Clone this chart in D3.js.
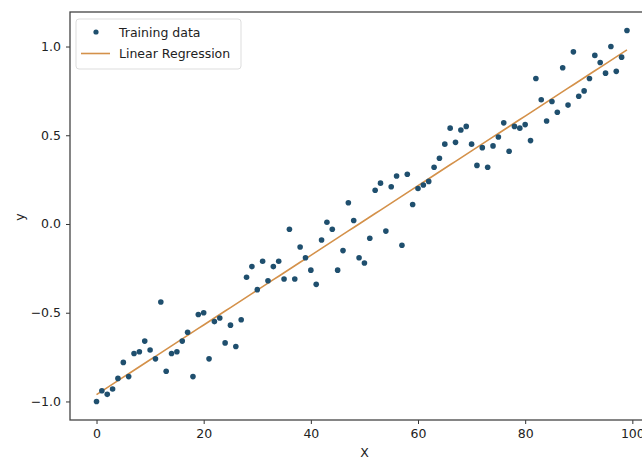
<!DOCTYPE html>
<html>
<head>
<meta charset="utf-8">
<script src="https://cdn.jsdelivr.net/npm/d3@7"></script>
<style>
  body { margin: 0; background: #fff; }
  svg { display: block; font-family: "DejaVu Sans", sans-serif; }
</style>
</head>
<body>
<svg id="chart" width="642" height="463"></svg>
<script>
// training data, x = 0..99
var xs = d3.range(0, 100);
var ys = [
  -1.00, -0.94, -0.96, -0.93, -0.87, -0.78, -0.86, -0.73, -0.72, -0.66,
  -0.71, -0.76, -0.44, -0.83, -0.73, -0.72, -0.66, -0.61, -0.86, -0.51,
  -0.50, -0.76, -0.55, -0.53, -0.67, -0.57, -0.69, -0.54, -0.30, -0.24,
  -0.37, -0.21, -0.32, -0.24, -0.21, -0.31, -0.03, -0.31, -0.13, -0.19,
  -0.26, -0.34, -0.09, 0.01, -0.03, -0.26, -0.15, 0.12, 0.02, -0.19,
  -0.22, -0.08, 0.19, 0.23, -0.04, 0.21, 0.27, -0.12, 0.28, 0.11,
  0.20, 0.22, 0.24, 0.32, 0.37, 0.45, 0.54, 0.46, 0.53, 0.55,
  0.45, 0.33, 0.43, 0.32, 0.44, 0.49, 0.57, 0.41, 0.55, 0.54,
  0.56, 0.47, 0.82, 0.70, 0.58, 0.69, 0.63, 0.88, 0.67, 0.97,
  0.72, 0.75, 0.82, 0.95, 0.91, 0.85, 1.00, 0.86, 0.94, 1.09
];
var xTicks = [0, 20, 40, 60, 80, 100];
var yTicks = [-1.0, -0.5, 0.0, 0.5, 1.0];
var legendLabels = ["Training data", "Linear Regression"];

var pointColor = "#1f4f6e";
var lineColor = "#d4914a";

var svg = d3.select("#chart");

// matplotlib style 5% margins around the data
function padded(ext) {
  var p = (ext[1] - ext[0]) * 0.05;
  return [ext[0] - p, ext[1] + p];
}

var x = d3.scaleLinear().domain(padded(d3.extent(xs))).range([70, 653.5]);
var y = d3.scaleLinear().domain(padded(d3.extent(ys))).range([420, 12]);

// least squares fit
var mx = d3.mean(xs), my = d3.mean(ys);
var sxy = d3.sum(xs, function(d, i) { return (d - mx) * (ys[i] - my); });
var sxx = d3.sum(xs, function(d) { return (d - mx) * (d - mx); });
var slope = sxy / sxx;
var icpt = my - slope * mx;

var line = d3.line()
  .x(function(d) { return x(d); })
  .y(function(d) { return y(icpt + slope * d); });

svg.append("path")
  .datum(xs)
  .attr("d", line)
  .attr("fill", "none")
  .attr("stroke", lineColor)
  .attr("stroke-width", 1.6);

svg.append("g")
  .selectAll("circle")
  .data(xs)
  .join("circle")
  .attr("cx", function(d) { return x(d); })
  .attr("cy", function(d, i) { return y(ys[i]); })
  .attr("r", 2.8)
  .attr("fill", pointColor);

// axes
var xAxis = svg.append("g")
  .attr("transform", "translate(0,420)")
  .call(d3.axisBottom(x).tickValues(xTicks).tickSize(4).tickPadding(5).tickFormat(d3.format("d")));

var yAxis = svg.append("g")
  .attr("transform", "translate(70,0)")
  .call(d3.axisLeft(y).tickValues(yTicks).tickSize(4).tickPadding(5)
    .tickFormat(function(d) { return d3.format(".1f")(d).replace("-", "\u2212"); }));

[xAxis, yAxis].forEach(function(g) {
  g.select(".domain").remove();
  g.selectAll("line").attr("stroke", "#333").attr("stroke-width", 1);
  g.selectAll("text").attr("fill", "#222").style("font-size", "12.5px")
    .style("font-family", "DejaVu Sans, sans-serif");
});

// frame
svg.append("rect")
  .attr("x", 70).attr("y", 12)
  .attr("width", 653.5 - 70).attr("height", 420 - 12)
  .attr("fill", "none")
  .attr("stroke", "#444")
  .attr("stroke-width", 1.3);

// axis labels
svg.append("text")
  .attr("x", x(50)).attr("y", 457)
  .attr("text-anchor", "middle")
  .style("font-size", "12.5px")
  .attr("fill", "#222")
  .text("X");

svg.append("text")
  .attr("transform", "translate(24,217) rotate(-90)")
  .attr("text-anchor", "middle")
  .style("font-size", "12.5px")
  .attr("fill", "#222")
  .text("y");

// legend
var lg = svg.append("g");
lg.append("rect")
  .attr("x", 76).attr("y", 19)
  .attr("width", 165).attr("height", 50)
  .attr("rx", 3)
  .attr("fill", "#fff")
  .attr("fill-opacity", 0.85)
  .attr("stroke", "#ddd");

lg.append("circle")
  .attr("cx", 96).attr("cy", 32)
  .attr("r", 2.6)
  .attr("fill", pointColor);

lg.append("line")
  .attr("x1", 81).attr("x2", 110)
  .attr("y1", 53.5).attr("y2", 53.5)
  .attr("stroke", lineColor)
  .attr("stroke-width", 1.6);

lg.selectAll("text")
  .data(legendLabels)
  .join("text")
  .attr("x", 119)
  .attr("y", function(d, i) { return 36.5 + i * 21.5; })
  .style("font-size", "12.5px")
  .attr("fill", "#222")
  .text(function(d) { return d; });
</script>
</body>
</html>
